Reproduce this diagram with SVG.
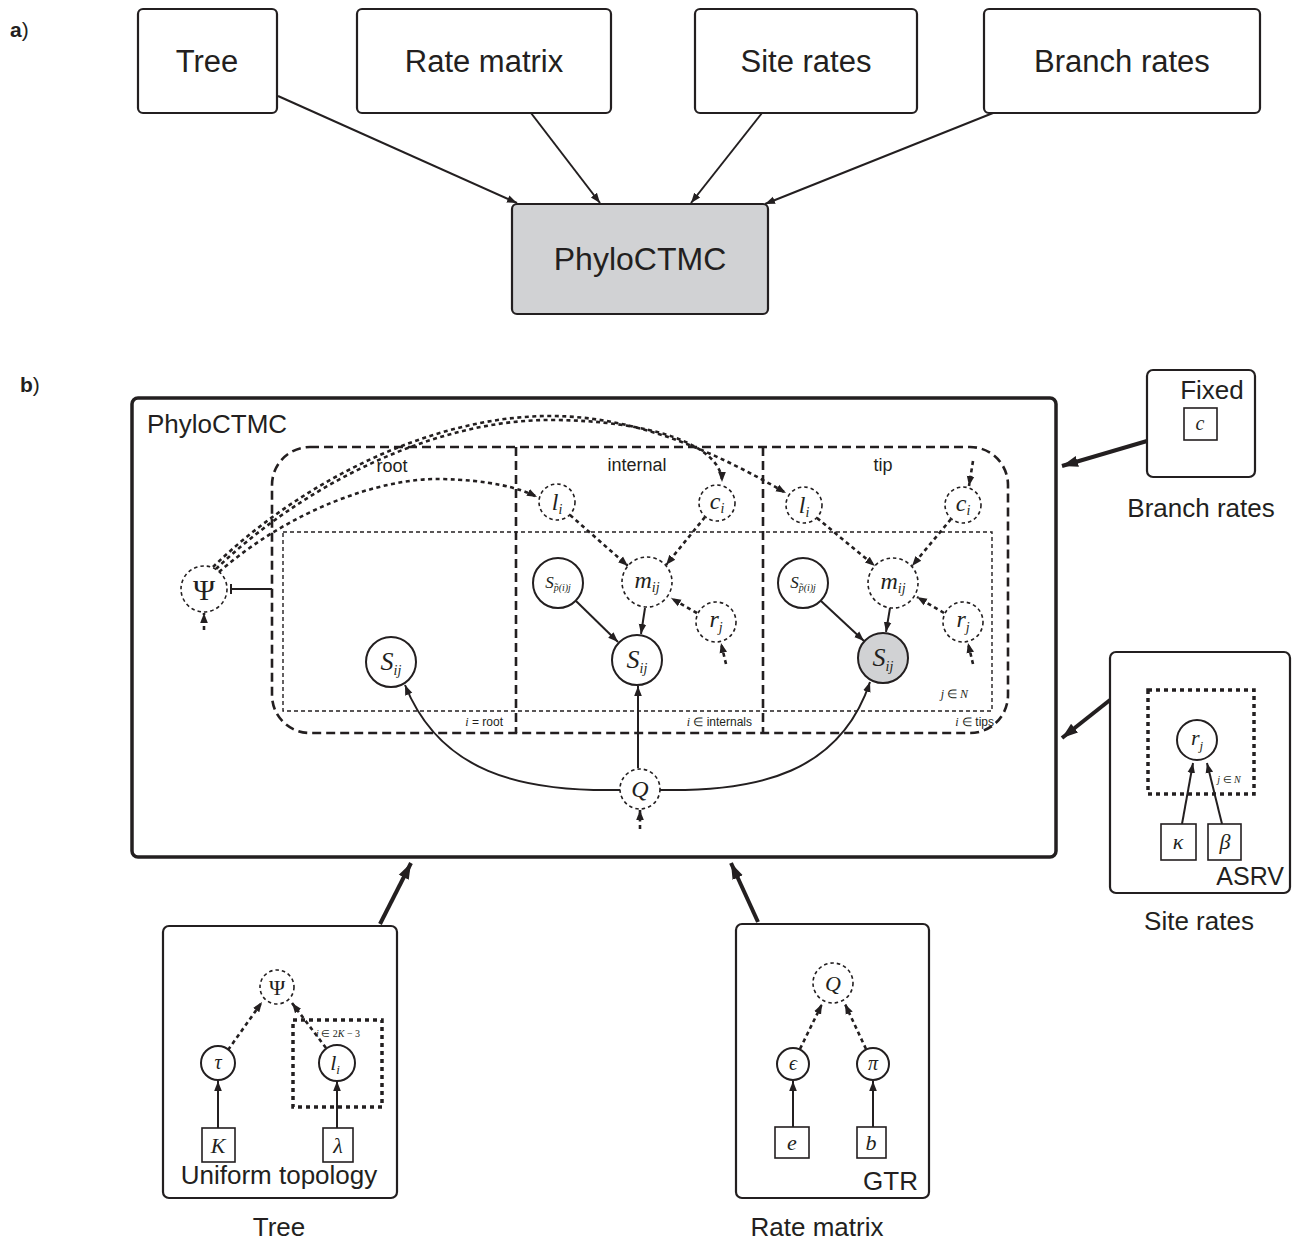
<svg xmlns="http://www.w3.org/2000/svg" width="1294" height="1242" viewBox="0 0 1294 1242">
<style>
.box{fill:#fff;stroke:#231f20;stroke-width:2.2}
.lbl{font-family:"Liberation Sans",Arial,sans-serif;fill:#231f20}
.m{font-family:"Liberation Serif","Times New Roman",serif;font-style:italic;fill:#231f20}
.mu{font-family:"Liberation Serif","Times New Roman",serif;fill:#231f20}
.dc{fill:#fff;stroke:#231f20;stroke-width:1.6;stroke-dasharray:3.5 3}
.sc{fill:#fff;stroke:#231f20;stroke-width:2}
.e{fill:none;stroke:#231f20;stroke-width:2}
.ed{fill:none;stroke:#231f20;stroke-width:2.6;stroke-dasharray:4 3.5}
.big{fill:none;stroke:#231f20;stroke-width:4}
.sq{fill:#fff;stroke:#231f20;stroke-width:1.6}
</style>
<defs>
<marker id="ah" viewBox="0 0 10 10" refX="10" refY="5" markerWidth="10" markerHeight="10" markerUnits="userSpaceOnUse" orient="auto"><path d="M0,1.2 L10,5 L0,8.8 Z" fill="#231f20"/></marker>
<marker id="ahb" viewBox="0 0 10 10" refX="10" refY="5" markerWidth="16" markerHeight="16" markerUnits="userSpaceOnUse" orient="auto"><path d="M0,1.5 L10,5 L0,8.5 Z" fill="#231f20"/></marker>
</defs>

<!-- Panel a -->
<text class="lbl" x="10" y="37" font-size="21" font-weight="bold">a<tspan font-weight="normal">)</tspan></text>
<g id="a-tree"><rect class="box" x="138" y="9" width="139" height="104" rx="5"/><text class="lbl" x="207" y="72" font-size="31" text-anchor="middle">Tree</text></g>
<g id="a-ratematrix"><rect class="box" x="357" y="9" width="254" height="104" rx="5"/><text class="lbl" x="484" y="72" font-size="31" text-anchor="middle">Rate matrix</text></g>
<g id="a-siterates"><rect class="box" x="695" y="9" width="222" height="104" rx="5"/><text class="lbl" x="806" y="72" font-size="31" text-anchor="middle">Site rates</text></g>
<g id="a-branchrates"><rect class="box" x="984" y="9" width="276" height="104" rx="5"/><text class="lbl" x="1122" y="72" font-size="31" text-anchor="middle">Branch rates</text></g>
<g id="a-phyloctmc"><rect class="box" x="512" y="204" width="256" height="110" rx="5" style="fill:#d1d2d4"/><text class="lbl" x="640" y="270" font-size="32" text-anchor="middle">PhyloCTMC</text></g>
<g id="a-edges">
<line class="e" x1="278" y1="96" x2="517" y2="203" marker-end="url(#ah)"/>
<line class="e" x1="531" y1="113" x2="600" y2="203" marker-end="url(#ah)"/>
<line class="e" x1="762" y1="113" x2="691" y2="203" marker-end="url(#ah)"/>
<line class="e" x1="993" y1="113" x2="765" y2="204" marker-end="url(#ah)"/>
</g>

<!-- Panel b -->
<text class="lbl" x="20" y="392" font-size="21" font-weight="bold">b<tspan font-weight="normal">)</tspan></text>
<g id="b-phyloctmc">
<rect x="132" y="398" width="924" height="459" rx="6" fill="#fff" stroke="#231f20" stroke-width="3.5"/>
<text class="lbl" x="147" y="433" font-size="26">PhyloCTMC</text>
<rect x="272" y="447" width="736" height="286" rx="38" fill="none" stroke="#231f20" stroke-width="2.6" stroke-dasharray="9 5"/>
<line x1="516" y1="447" x2="516" y2="733" stroke="#231f20" stroke-width="2.6" stroke-dasharray="9 5"/>
<line x1="763" y1="447" x2="763" y2="733" stroke="#231f20" stroke-width="2.6" stroke-dasharray="9 5"/>
<rect x="283" y="532" width="709" height="179" fill="none" stroke="#231f20" stroke-width="1.4" stroke-dasharray="4 3"/>
<text class="lbl" x="392" y="472" font-size="18" text-anchor="middle">root</text>
<text class="lbl" x="637" y="471" font-size="18" text-anchor="middle">internal</text>
<text class="lbl" x="883" y="471" font-size="18" text-anchor="middle">tip</text>
<text class="lbl" x="503" y="726" font-size="12" text-anchor="end"><tspan class="m">i</tspan> = root</text>
<text class="lbl" x="752" y="726" font-size="12" text-anchor="end"><tspan class="m">i</tspan> ∈ internals</text>
<text class="lbl" x="994" y="726" font-size="12" text-anchor="end"><tspan class="m">i</tspan> ∈ tips</text>
<text class="m" x="968" y="698" font-size="12" text-anchor="end">j <tspan style="font-style:normal">∈</tspan> N</text>
</g>

<g id="b-edges">
<path class="ed" d="M219 572 C290 510 380 478 440 479 C490 480 520 488 537 497" marker-end="url(#ah)"/>
<path class="ed" d="M216 569 C298 490 428 420 550 420 C650 420 722 445 722 482" marker-end="url(#ah)"/>
<path class="ed" d="M213 567 C295 487 426 416 550 416 C640 416 720 455 786 493" marker-end="url(#ah)"/>
<line class="e" x1="231" y1="589" x2="272" y2="589"/>
<line class="e" x1="231" y1="584" x2="231" y2="594"/>
<line class="ed" x1="204" y1="630" x2="204" y2="613" marker-end="url(#ah)"/>
<line class="ed" x1="570" y1="515" x2="628" y2="566" marker-end="url(#ah)"/>
<line class="ed" x1="705" y1="517" x2="666" y2="565" marker-end="url(#ah)"/>
<line class="ed" x1="697" y1="613" x2="671" y2="598" marker-end="url(#ah)"/>
<line class="ed" x1="726" y1="664" x2="721" y2="643" marker-end="url(#ah)"/>
<line class="e" x1="645" y1="608" x2="641" y2="634" marker-end="url(#ah)"/>
<line class="e" x1="576" y1="601" x2="618" y2="642" marker-end="url(#ah)"/>
<line class="ed" x1="973" y1="461" x2="969" y2="486" marker-end="url(#ah)"/>
<line class="ed" x1="817" y1="518" x2="875" y2="566" marker-end="url(#ah)"/>
<line class="ed" x1="951" y1="519" x2="912" y2="566" marker-end="url(#ah)"/>
<line class="ed" x1="944" y1="613" x2="917" y2="597" marker-end="url(#ah)"/>
<line class="ed" x1="973" y1="664" x2="968" y2="643" marker-end="url(#ah)"/>
<line class="e" x1="890" y1="608" x2="886" y2="632" marker-end="url(#ah)"/>
<line class="e" x1="821" y1="601" x2="864" y2="641" marker-end="url(#ah)"/>
<line class="e" x1="638" y1="768" x2="638" y2="686" marker-end="url(#ah)"/>
<path class="e" d="M620 790 C520 792 440 772 405 685" marker-end="url(#ah)"/>
<path class="e" d="M660 790 C760 792 840 772 870 682" marker-end="url(#ah)"/>
<line class="ed" x1="640" y1="829" x2="640" y2="810" marker-end="url(#ah)"/>
<line class="big" x1="1147" y1="441" x2="1062" y2="466" marker-end="url(#ahb)"/>
<line class="big" x1="1110" y1="700" x2="1062" y2="738" marker-end="url(#ahb)"/>
<line class="big" x1="380" y1="924" x2="411" y2="863" marker-end="url(#ahb)"/>
<line class="big" x1="758" y1="922" x2="731" y2="863" marker-end="url(#ahb)"/>
</g>

<g id="psi"><circle class="dc" cx="204" cy="589" r="23"/><text class="mu" x="204" y="600" font-size="30" text-anchor="middle">Ψ</text></g>
<g id="root-S"><circle class="sc" cx="391" cy="662" r="25"/><text class="m" x="391" y="670" font-size="26" text-anchor="middle">S<tspan font-size="14" dy="5">ij</tspan></text></g>
<g id="int-l"><circle class="dc" cx="557" cy="502" r="18"/><text class="m" x="557" y="510" font-size="24" text-anchor="middle">l<tspan font-size="14" dy="4">i</tspan></text></g>
<g id="int-c"><circle class="dc" cx="717" cy="503" r="18"/><text class="m" x="717" y="509" font-size="24" text-anchor="middle">c<tspan font-size="14" dy="4">i</tspan></text></g>
<g id="int-m"><circle class="dc" cx="647" cy="582" r="25"/><text class="m" x="647" y="588" font-size="24" text-anchor="middle">m<tspan font-size="14" dy="4">ij</tspan></text></g>
<g id="int-Sp"><circle class="sc" cx="558" cy="583" r="25"/><text class="m" x="558" y="588" font-size="17" text-anchor="middle">S<tspan font-size="10" dy="3">p̃(i)j</tspan></text></g>
<g id="int-S"><circle class="sc" cx="637" cy="660" r="25"/><text class="m" x="637" y="668" font-size="26" text-anchor="middle">S<tspan font-size="14" dy="5">ij</tspan></text></g>
<g id="int-r"><circle class="dc" cx="716" cy="622" r="20"/><text class="m" x="716" y="627" font-size="24" text-anchor="middle">r<tspan font-size="14" dy="5">j</tspan></text></g>
<g id="tip-l"><circle class="dc" cx="804" cy="505" r="18"/><text class="m" x="804" y="513" font-size="24" text-anchor="middle">l<tspan font-size="14" dy="4">i</tspan></text></g>
<g id="tip-c"><circle class="dc" cx="963" cy="505" r="18"/><text class="m" x="963" y="511" font-size="24" text-anchor="middle">c<tspan font-size="14" dy="4">i</tspan></text></g>
<g id="tip-m"><circle class="dc" cx="893" cy="583" r="25"/><text class="m" x="893" y="589" font-size="24" text-anchor="middle">m<tspan font-size="14" dy="4">ij</tspan></text></g>
<g id="tip-Sp"><circle class="sc" cx="803" cy="583" r="25"/><text class="m" x="803" y="588" font-size="17" text-anchor="middle">S<tspan font-size="10" dy="3">p̃(i)j</tspan></text></g>
<g id="tip-S"><circle class="sc" cx="883" cy="658" r="25" style="fill:#d1d2d4"/><text class="m" x="883" y="666" font-size="26" text-anchor="middle">S<tspan font-size="14" dy="5">ij</tspan></text></g>
<g id="tip-r"><circle class="dc" cx="963" cy="622" r="20"/><text class="m" x="963" y="627" font-size="24" text-anchor="middle">r<tspan font-size="14" dy="5">j</tspan></text></g>
<g id="Q"><circle class="dc" cx="640" cy="789" r="20"/><text class="m" x="640" y="797" font-size="24" text-anchor="middle">Q</text></g>

<g id="branchrates">
<rect class="box" x="1147" y="370" width="108" height="107" rx="6"/>
<text class="lbl" x="1212" y="399" font-size="26" text-anchor="middle">Fixed</text>
<rect class="sq" x="1184" y="408" width="33" height="32"/>
<text class="m" x="1200" y="430" font-size="20" text-anchor="middle">c</text>
<text class="lbl" x="1201" y="517" font-size="26" text-anchor="middle">Branch rates</text>
</g>

<g id="siterates">
<rect class="box" x="1110" y="652" width="180" height="241" rx="6"/>
<rect x="1148" y="690" width="106" height="104" fill="none" stroke="#231f20" stroke-width="3.5" stroke-dasharray="4 4"/>
<circle class="sc" cx="1197" cy="740" r="20"/>
<text class="m" x="1197" y="745" font-size="22" text-anchor="middle">r<tspan font-size="13" dy="5">j</tspan></text>
<text class="m" x="1229" y="783" font-size="10" text-anchor="middle">j <tspan style="font-style:normal">∈</tspan> N</text>
<line class="e" x1="1182" y1="824" x2="1193" y2="763" marker-end="url(#ah)"/>
<line class="e" x1="1222" y1="824" x2="1207" y2="763" marker-end="url(#ah)"/>
<rect class="sq" x="1161" y="824" width="35" height="36"/>
<text class="m" x="1178" y="849" font-size="22" text-anchor="middle">κ</text>
<rect class="sq" x="1208" y="824" width="33" height="36"/>
<text class="m" x="1225" y="849" font-size="22" text-anchor="middle">β</text>
<text class="lbl" x="1284" y="885" font-size="25" text-anchor="end">ASRV</text>
<text class="lbl" x="1199" y="930" font-size="26" text-anchor="middle">Site rates</text>
</g>

<g id="tree">
<rect class="box" x="163" y="926" width="234" height="272" rx="6"/>
<rect x="293" y="1020" width="89" height="87" fill="none" stroke="#231f20" stroke-width="3.5" stroke-dasharray="4 4"/>
<text class="m" x="338" y="1037" font-size="10" text-anchor="middle">i <tspan style="font-style:normal">∈ 2</tspan>K <tspan style="font-style:normal">− 3</tspan></text>
<line class="ed" x1="228" y1="1050" x2="262" y2="1002" marker-end="url(#ah)"/>
<line class="ed" x1="326" y1="1048" x2="292" y2="1003" marker-end="url(#ah)"/>
<line class="e" x1="218" y1="1128" x2="218" y2="1081" marker-end="url(#ah)"/>
<line class="e" x1="337" y1="1128" x2="337" y2="1081" marker-end="url(#ah)"/>
<circle class="dc" cx="277" cy="987" r="17"/>
<text class="mu" x="277" y="995" font-size="22" text-anchor="middle">Ψ</text>
<circle class="sc" cx="218" cy="1063" r="17"/>
<text class="m" x="218" y="1069" font-size="20" text-anchor="middle">τ</text>
<circle class="sc" cx="337" cy="1063" r="18"/>
<text class="m" x="335" y="1070" font-size="22" text-anchor="middle">l<tspan font-size="13" dy="4">i</tspan></text>
<rect class="sq" x="202" y="1128" width="33" height="34"/>
<text class="m" x="218" y="1153" font-size="22" text-anchor="middle">K</text>
<rect class="sq" x="323" y="1128" width="30" height="34"/>
<text class="m" x="338" y="1153" font-size="22" text-anchor="middle">λ</text>
<text class="lbl" x="279" y="1184" font-size="26" text-anchor="middle">Uniform topology</text>
<text class="lbl" x="279" y="1236" font-size="26" text-anchor="middle">Tree</text>
</g>

<g id="ratematrix">
<rect class="box" x="736" y="924" width="193" height="274" rx="6"/>
<line class="ed" x1="800" y1="1049" x2="822" y2="1004" marker-end="url(#ah)"/>
<line class="ed" x1="866" y1="1049" x2="845" y2="1004" marker-end="url(#ah)"/>
<line class="e" x1="793" y1="1127" x2="793" y2="1081" marker-end="url(#ah)"/>
<line class="e" x1="873" y1="1127" x2="873" y2="1081" marker-end="url(#ah)"/>
<circle class="dc" cx="833" cy="983" r="20"/>
<text class="m" x="833" y="991" font-size="22" text-anchor="middle">Q</text>
<circle class="sc" cx="793" cy="1064" r="16"/>
<text class="m" x="793" y="1070" font-size="20" text-anchor="middle">ϵ</text>
<circle class="sc" cx="873" cy="1064" r="16"/>
<text class="m" x="873" y="1070" font-size="20" text-anchor="middle">π</text>
<rect class="sq" x="775" y="1127" width="34" height="31"/>
<text class="m" x="792" y="1150" font-size="22" text-anchor="middle">e</text>
<rect class="sq" x="857" y="1127" width="29" height="31"/>
<text class="m" x="871" y="1150" font-size="22" text-anchor="middle">b</text>
<text class="lbl" x="918" y="1190" font-size="26" text-anchor="end">GTR</text>
<text class="lbl" x="817" y="1236" font-size="26" text-anchor="middle">Rate matrix</text>
</g>
</svg>
